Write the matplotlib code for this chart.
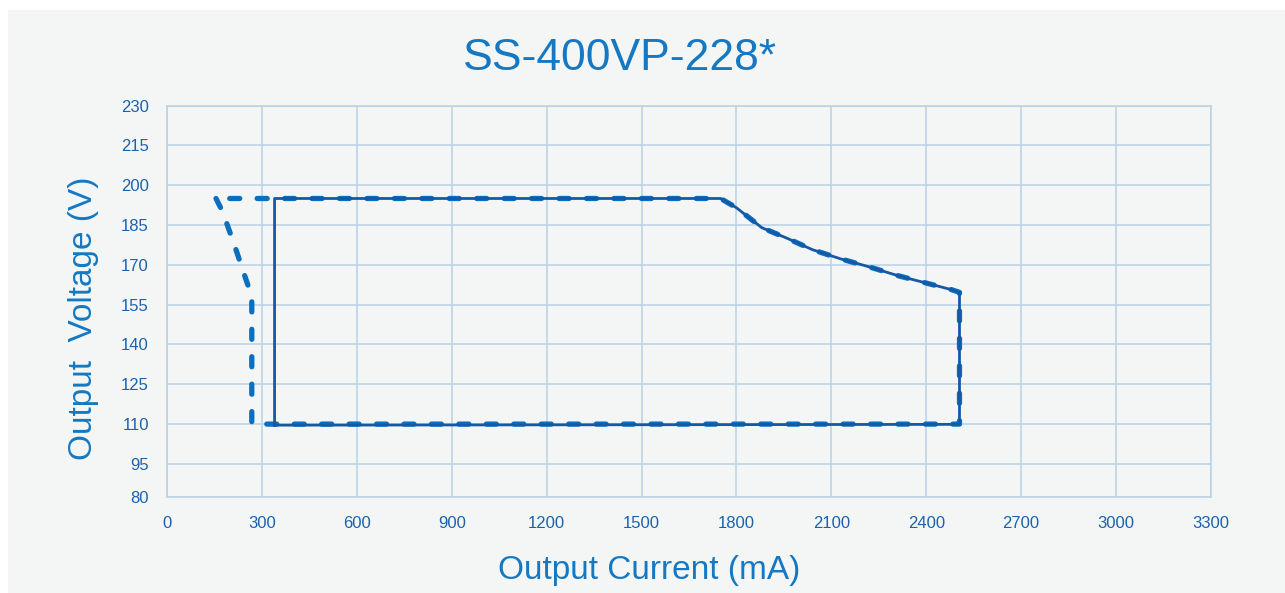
import matplotlib.pyplot as plt
from matplotlib.patches import Rectangle

plt.rcParams['font.family'] = ['Liberation Sans', 'DejaVu Sans']

# solid curve (mA, V)
solid_i = [340, 340, 1750, 1800, 1880, 1960, 2040, 2130, 2220, 2310, 2400, 2480, 2505, 2505, 340]
solid_v = [109.5, 195, 195, 191.5, 184, 180, 175.7, 172.2, 169.2, 165.9, 163.1, 160.6, 159.6, 109.8, 109.5]

# dashed curve (mA, V)
dash_i = [155, 175, 211, 241, 268, 268, 2505, 2505, 2480, 2400, 2310, 2220, 2130, 2040, 1960, 1880, 1800, 1750, 155]
dash_v = [195, 190.2, 178.2, 167.5, 158, 109.9, 109.9, 159.6, 160.6, 163.1, 165.9, 169.2, 172.2, 175.7, 180, 184, 191.5, 195, 195]

xticks = [0, 300, 600, 900, 1200, 1500, 1800, 2100, 2400, 2700, 3000, 3300]
yticks = [82.4, 95, 110, 125, 140, 155, 170, 185, 200, 215, 230]
ytick_labels = ['80', '95', '110', '125', '140', '155', '170', '185', '200', '215', '230']

bg = '#f4f6f6'
grid_c = '#bcd4e6'
txt_c = '#1a62ad'
title_c = '#1479c2'

fig = plt.figure(figsize=(12.85, 5.93), dpi=100)
fig.patch.set_facecolor('white')
fig.patches.append(Rectangle((8 / 1285, 0), 1, 1 - 10 / 593, transform=fig.transFigure,
                             facecolor=bg, edgecolor='none', zorder=-10))

ax = fig.add_axes([167 / 1285, 1 - 497 / 593, (1211 - 167) / 1285, (497 - 105.7) / 593])
ax.set_facecolor(bg)

ax.plot(dash_i, dash_v, color='#0b6fc0', linewidth=3.8, dashes=(1.9, 3.3),
        dash_capstyle='round', solid_capstyle='round', zorder=3)
ax.plot(solid_i, solid_v, color='#1558a6', linewidth=2.0, zorder=4)

ax.set_xlim(0, 3300)
ax.set_ylim(82.4, 230)
ax.set_xticks(xticks)
ax.set_yticks(yticks)
ax.set_yticklabels(ytick_labels)
ax.grid(True, color=grid_c, linewidth=1.2)
ax.set_axisbelow(True)
for s in ax.spines.values():
    s.set_color(grid_c)
    s.set_linewidth(1.2)
ax.tick_params(length=0, colors=txt_c, labelsize=12)
ax.tick_params(axis='x', pad=14)
ax.tick_params(axis='y', pad=13)

fig.text(620 / 1285, 1 - 59 / 593, 'SS-400VP-228*', color=title_c, fontsize=32,
         ha='center', va='center')
fig.text(649 / 1285, 1 - 570 / 593, 'Output Current (mA)', color=title_c, fontsize=24,
         ha='center', va='center')
fig.text(84 / 1285, 1 - 318 / 593, 'Output  Voltage (V)', color=title_c, fontsize=24,
         ha='center', va='center', rotation=90)

fig.savefig('out.png', dpi=100, facecolor=fig.get_facecolor())
